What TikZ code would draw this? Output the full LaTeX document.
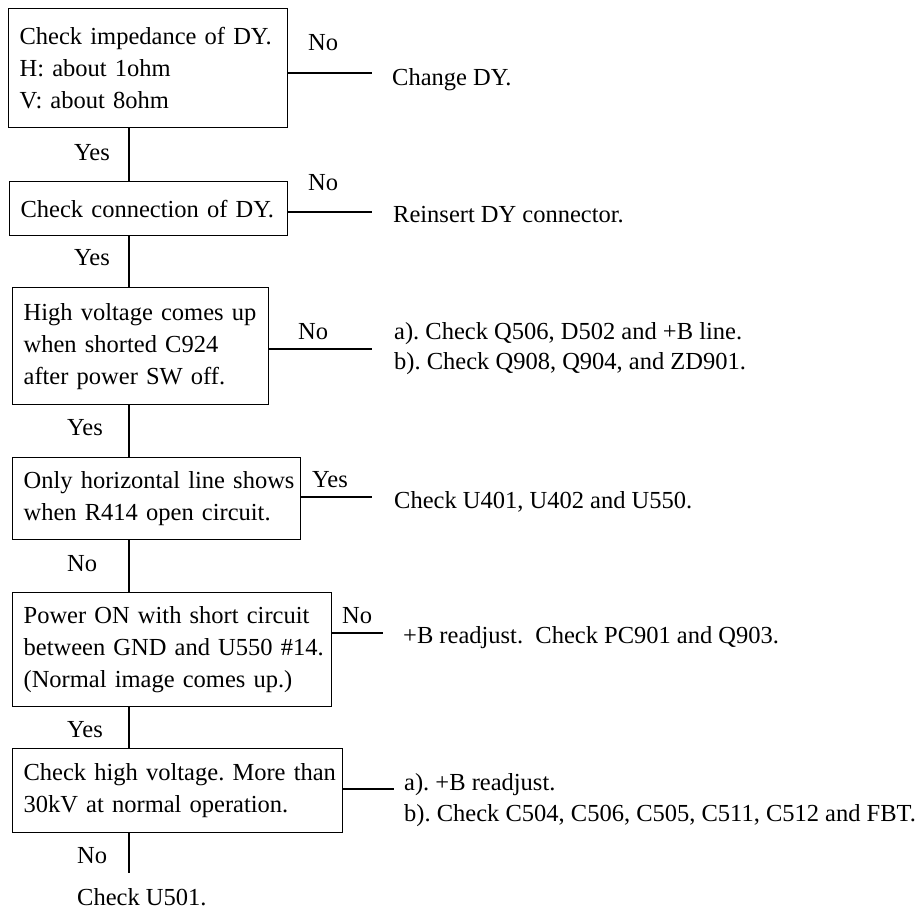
\documentclass[tikz,border=0pt]{standalone}
\usepackage{fontspec}
\setmainfont{Liberation Serif}
\begin{document}
\frenchspacing
\begin{tikzpicture}[x=1pt,y=-1pt,
  every node/.style={font=\fontsize{24.5}{32}\selectfont\frenchspacing},
  stepbox/.style={draw,line width=1.3pt,anchor=north west,align=left,inner xsep=11pt,inner ysep=0pt},
  lbl/.style={anchor=base west,inner sep=0pt},
  conn/.style={line width=1.3pt}]
\useasboundingbox (0,0) rectangle (922,909);
\coordinate (spine) at (129,0);
% boxes
\node[stepbox,minimum width=279pt,minimum height=119pt,text width=257pt] (b1) at (8,8)
  {Check impedance of DY.\\H: about 1ohm\\V: about 8ohm};
\node[stepbox,minimum width=278pt,minimum height=54pt,text width=256pt] (b2) at (9,181)
  {Check connection of DY.};
\node[stepbox,minimum width=256pt,minimum height=117pt,text width=234pt] (b3) at (12,287)
  {High voltage comes up\\when shorted C924\\after power SW off.};
\node[stepbox,minimum width=288pt,minimum height=82pt,text width=266pt] (b4) at (12,457)
  {\mbox{Only horizontal line shows}\\when R414 open circuit.};
\node[stepbox,minimum width=319pt,minimum height=114pt,text width=297pt] (b5) at (12,592)
  {Power ON with short circuit\\\mbox{between GND and U550 \#14.}\\(Normal image comes up.)};
\node[stepbox,minimum width=330pt,minimum height=84pt,text width=308pt] (b6) at (12,748)
  {\mbox{Check high voltage. More than}\\30kV at normal operation.};
% labels
\node[lbl] (n1) at (308,51) {No};
\node[lbl] (y1) at (74,161) {Yes};
\node[lbl] (n2) at (308,191) {No};
\node[lbl] (y2) at (74,266) {Yes};
\node[lbl] (n3) at (298,340) {No};
\node[lbl] (y3) at (67,436) {Yes};
\node[lbl] (y4) at (312,488) {Yes};
\node[lbl] (n4) at (67,571) {No};
\node[lbl] (n5) at (342,623) {No};
\node[lbl] (y5) at (67,737) {Yes};
\node[lbl] (n6) at (77,863) {No};
% results
\node[lbl] (r1) at (392,86) {Change DY.};
\node[lbl] (r2) at (393,223) {Reinsert DY connector.};
\node[lbl] (r3a) at (394,340) {a). Check Q506, D502 and +B line.};
\node[lbl] (r3b) at (394,370) {b). Check Q908, Q904, and ZD901.};
\node[lbl] (r4) at (394,508) {Check U401, U402 and U550.};
\node[lbl] (r5) at (403,643) {+B readjust.\ \ Check PC901 and Q903.};
\node[lbl] (r6a) at (404,790) {a). +B readjust.};
\node[lbl] (r6b) at (404,821) {b). Check C504, C506, C505, C511, C512 and FBT.};
\node[lbl] (r7) at (77,905) {Check U501.};
% free ends
\coordinate (e1) at (372,73);
\coordinate (e2) at (372,212);
\coordinate (e3) at (372,349);
\coordinate (e4) at (372,497);
\coordinate (e5) at (383,633);
\coordinate (e6) at (394,789);
\coordinate (e7) at (129,873);
% vertical connectors
\draw[conn] (b1.south -| spine) -- (b2.north -| spine);
\draw[conn] (b2.south -| spine) -- (b3.north -| spine);
\draw[conn] (b3.south -| spine) -- (b4.north -| spine);
\draw[conn] (b4.south -| spine) -- (b5.north -| spine);
\draw[conn] (b5.south -| spine) -- (b6.north -| spine);
\draw[conn] (b6.south -| spine) -- (e7);
% horizontal connectors
\draw[conn] (b1.east |- e1) -- (e1);
\draw[conn] (b2.east |- e2) -- (e2);
\draw[conn] (b3.east |- e3) -- (e3);
\draw[conn] (b4.east |- e4) -- (e4);
\draw[conn] (b5.east |- e5) -- (e5);
\draw[conn] (b6.east |- e6) -- (e6);
\end{tikzpicture}
\end{document}
